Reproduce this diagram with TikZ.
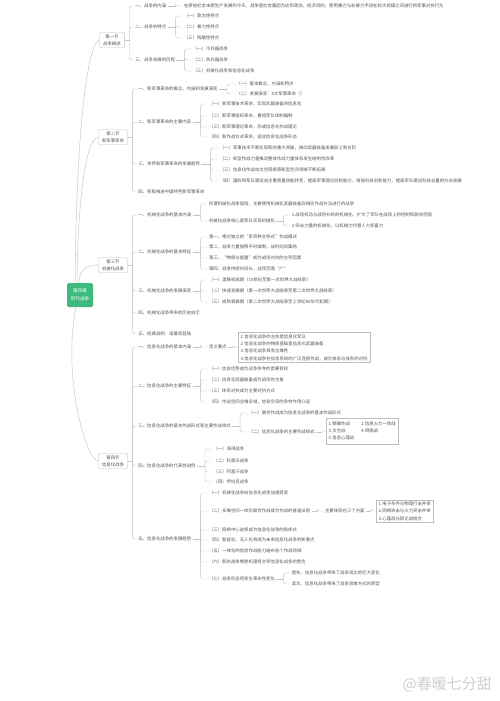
\documentclass[tikz,border=0pt]{standalone}
\usepackage{fontspec}
\setmainfont{Noto Sans CJK SC}
\usetikzlibrary{calc}
\definecolor{txt}{HTML}{555555}
\definecolor{lnc}{HTML}{C4C4C4}
\definecolor{boxc}{HTML}{BDBDBD}
\definecolor{rootg}{HTML}{3DBB7E}
\definecolor{wm}{HTML}{D0D0D0}
\tikzset{
 lbl/.style={anchor=west,inner xsep=1.2pt,inner ysep=0.5pt,text=txt,font=\fontsize{4.4}{5.2}\selectfont},
 secbox/.style={draw=boxc,line width=0.4pt,rounded corners=1.2pt,fill=white,align=center,text=txt,font=\fontsize{4.4}{7}\selectfont,inner xsep=3.5pt,inner ysep=2.2pt},
 rootbox/.style={fill=rootg,rounded corners=1.5pt,align=center,text=white,font=\fontsize{4.6}{8}\selectfont,minimum width=26pt,minimum height=24pt,inner sep=1pt},
 infobox/.style={draw=boxc,line width=0.4pt,anchor=west,align=left,text=txt,font=\fontsize{4.4}{7.4}\selectfont,inner xsep=2.5pt,inner ysep=1.8pt},
 conn/.style={draw=lnc,line width=0.45pt},
}
\newcommand\hubx[3]{\coordinate (#1b) at ([xshift=#2pt]#1.east);\coordinate (#1x) at ([xshift=#3pt]#1.east);}
\newcommand\fan[2]{\draw[conn] (#1.east) -- (#1b);\foreach \c in {#2}{\draw[conn,rounded corners=1.8pt] (#1b) |- (\c.west);}}
\begin{document}
\begin{tikzpicture}[x=1pt,y=-1pt]
\fill[white] (0,0) rectangle (500,701);
\useasboundingbox (0,0) rectangle (500,701);

% root and sections
\node[rootbox] (root) at (80,295) {第四章\\现代战争};
\node[secbox] (s1) at (112,40) {第一节\\战争概述};
\node[secbox] (s2) at (113,137) {第二节\\新军事革命};
\node[secbox] (s3) at (113,265) {第三节\\机械化战争};
\node[secbox] (s4) at (113,461) {第四节\\信息化战争};
\draw[conn] ([xshift=-5pt]root.north) .. controls +(2,-190) and +(-8,0) .. (s1.west);
\draw[conn] ([xshift=-3pt]root.north) .. controls +(1,-100) and +(-10,0) .. (s2.west);
\draw[conn] ([xshift=-1pt]root.north) .. controls +(0,-14) and +(-10,0) .. (s3.west);
\draw[conn] ([xshift=-4pt]root.south) .. controls +(-14,70) and +(-12,0) .. (s4.west);

% ===== Section 1 =====
\node[lbl] (a1) at (134,6) {一、战争的内涵};
\node[lbl] (a2) at (134,27) {二、战争的特点};
\node[lbl] (a3) at (134,60) {三、战争发展的历程};
\coordinate (s1b) at ([xshift=5pt]s1.east);
\fan{s1}{a1,a2,a3}
\hubx{a1}{8}{15}
\node[lbl] (a11) at (a1x |- 0,6) {在原始社会末期生产发展到今天，战争是社会集团为达到政治、经济目的，使用暴力与非暴力手段在较大规模之间进行的军事对抗行为};
\fan{a1}{a11}
\hubx{a2}{8}{15}
\node[lbl] (a21) at (a2x |- 0,16) {（一）政治性特点};
\node[lbl] (a22) at (a2x |- 0,27) {（二）暴力性特点};
\node[lbl] (a23) at (a2x |- 0,38) {（三）残酷性特点};
\fan{a2}{a21,a22,a23}
\hubx{a3}{8}{15}
\node[lbl] (a31) at (a3x |- 0,49) {（一）冷兵器战争};
\node[lbl] (a32) at (a3x |- 0,60) {（二）热兵器战争};
\node[lbl] (a33) at (a3x |- 0,71) {（三）机械化战争和信息化战争};
\fan{a3}{a31,a32,a33}

% ===== Section 2 =====
\node[lbl] (b1) at (137,89) {一、新军事革命的概念、内涵和发展演变};
\node[lbl] (b2) at (137,122) {二、新军事革命的主要内容};
\node[lbl] (b3) at (137,164) {三、世界新军事革命的发展趋势};
\node[lbl] (b4) at (137,192) {四、积极推进中国特色新军事革命};
\coordinate (s2b) at ([xshift=5pt]s2.east);
\fan{s2}{b1,b2,b3,b4}
\hubx{b1}{8}{16}
\node[lbl] (b11) at (b1x |- 0,84) {（一）基本概念、内涵和特点};
\node[lbl] (b12) at (b1x |- 0,94) {（二）发展演变：8大军事革命 \ ①};
\fan{b1}{b11,b12}
\hubx{b2}{8}{15}
\node[lbl] (b21) at (b2x |- 0,104) {（一）新军事技术革命，实现武器装备的信息化};
\node[lbl] (b22) at (b2x |- 0,116) {（二）新军事组织革命，重组军队体制编制};
\node[lbl] (b23) at (b2x |- 0,127) {（三）新军事理论革命，形成信息化作战理论};
\node[lbl] (b24) at (b2x |- 0,137) {（四）新作战方式革命，适应信息化战争形态};
\fan{b2}{b21,b22,b23,b24}
\hubx{b3}{9}{17}
\node[lbl] (b31) at (b3x |- 0,148) {（一）军事技术不断实现新的重大突破，推动武器装备发展跃上新台阶};
\node[lbl] (b32) at (b3x |- 0,159) {（二）新型作战力量推动整体作战力量体系发生结构性改革};
\node[lbl] (b33) at (b3x |- 0,170) {（三）信息化作战向太空网络等新型空间领域不断拓展};
\node[lbl] (b34) at (b3x |- 0,181) {（四）国防和军队建设向注重质量效能转变，提高军事理论创新能力、增强科技创新能力，提高军队建设科技含量的方向发展};
\fan{b3}{b31,b32,b33,b34}

% ===== Section 3 =====
\node[lbl] (c1) at (137,215) {一、机械化战争的基本内涵};
\node[lbl] (c2) at (137,252) {二、机械化战争的基本特征};
\node[lbl] (c3) at (137,291) {三、机械化战争的发展演变};
\node[lbl] (c4) at (137,313) {四、机械化战争带来的历史启示};
\node[lbl] (c5) at (137,334) {五、经典战例：诺曼底登陆};
\coordinate (s3b) at ([xshift=5pt]s3.east);
\fan{s3}{c1,c2,c3,c4,c5}
\hubx{c1}{8}{15}
\node[lbl] (c11) at (c1x |- 0,204) {所谓机械化战争是指，主要使用机械化武器装备及相应作战方法进行的战争};
\node[lbl] (c12) at (c1x |- 0,221) {机械化战争核心是军队实现机械化};
\fan{c1}{c11,c12}
\hubx{c12}{7}{14}
\node[lbl] (c121) at (c12x |- 0,215) {1.战场机动与战场补给的机械化，扩大了军队在战场上的控制和影响范围};
\node[lbl] (c122) at (c12x |- 0,226) {2.突击力量的机械化，以机械力代替人力和畜力};
\fan{c12}{c121,c122}
\hubx{c2}{8}{15}
\node[lbl] (c21) at (c2x |- 0,237) {第一，相对独立的“军兵种主导式”作战模式};
\node[lbl] (c22) at (c2x |- 0,247) {第二，战争力量按照平时编制，战时动员集结};
\node[lbl] (c23) at (c2x |- 0,258) {第三，“物质与能量”成为战场对抗的主导因素};
\node[lbl] (c24) at (c2x |- 0,269) {第四，战争持续时间长，战场范围“广”};
\fan{c2}{c21,c22,c23,c24}
\hubx{c3}{8}{15}
\node[lbl] (c31) at (c3x |- 0,280) {（一）滥觞初成期（19世纪至第一次世界大战结束）};
\node[lbl] (c32) at (c3x |- 0,291) {（二）快速发展期（第一次世界大战结束至第二次世界大战结束）};
\node[lbl] (c33) at (c3x |- 0,302) {（三）成熟衰微期（第二次世界大战结束至上世纪80年代初期）};
\fan{c3}{c31,c32,c33}

% ===== Section 4 =====
\node[lbl] (d1) at (137,347) {一、信息化战争的基本内涵};
\node[lbl] (d2) at (137,386) {二、信息化战争的主要特征};
\node[lbl] (d3) at (137,426) {三、信息化战争的基本作战形式和主要作战样式};
\node[lbl] (d4) at (137,466) {四、信息化战争的代表性战例};
\node[lbl] (d5) at (137,539) {五、信息化战争的发展趋势};
\coordinate (s4b) at ([xshift=5pt]s4.east);
\fan{s4}{d1,d2,d3,d4,d5}
\hubx{d1}{8}{15}
\node[lbl] (d11) at (d1x |- 0,347) {定义要点};
\fan{d1}{d11}
\hubx{d11}{5}{10}
\node[infobox] (d111) at (d11x |- 0,347.5) {1.信息化战争的主体是信息化军队\\2.信息化战争的物质基础是信息化武器装备\\3.信息化战争具有全维性\\4.信息化战争在信息系统的广泛连接作战，成为体系与体系的对抗};
\fan{d11}{d111}
\hubx{d2}{8}{15}
\node[lbl] (d21) at (d2x |- 0,369) {（一）信息优势成为战争争夺的首要目标};
\node[lbl] (d22) at (d2x |- 0,380) {（二）信息化武器装备成为战场的主角};
\node[lbl] (d23) at (d2x |- 0,391) {（三）体系对抗成为主要对抗方式};
\node[lbl] (d24) at (d2x |- 0,402) {（四）作战空间全维多域，信息空间的争夺作用凸显};
\fan{d2}{d21,d22,d23,d24}
\hubx{d3}{8}{15}
\node[lbl] (d31) at (d3x |- 0,413) {（一）联合作战成为信息化战争的基本作战形式};
\node[lbl] (d32) at (d3x |- 0,432) {（二）信息化战争的主要作战样式};
\fan{d3}{d31,d32}
\hubx{d32}{5}{10}
\node[infobox] (d321) at (d32x |- 0,431) {\begin{tabular}{@{}l@{\hspace{7pt}}l@{}}1.精确作战 & 2.信息火力一体战\\3.太空战 & 4.网络战\\5.信息心理战 & \end{tabular}};
\fan{d32}{d321}
\hubx{d4}{8}{15}
\node[lbl] (d41) at (d4x |- 0,449) {（一）海湾战争};
\node[lbl] (d42) at (d4x |- 0,461) {（二）科索沃战争};
\node[lbl] (d43) at (d4x |- 0,472) {（三）阿富汗战争};
\node[lbl] (d44) at (d4x |- 0,482) {（四）伊拉克战争};
\fan{d4}{d41,d42,d43,d44}
\hubx{d5}{8}{15}
\node[lbl] (d51) at (d5x |- 0,493) {（一）机械化战争向信息化战争加速转变};
\node[lbl] (d52) at (d5x |- 0,511) {（二）多维空间一体化联合作战成为作战的普遍法则};
\node[lbl] (d53) at (d5x |- 0,530) {（三）网络中心战将成为信息化战争的新样式};
\node[lbl] (d54) at (d5x |- 0,540) {（四）智能化、无人化将成为未来信息化战争的新重点};
\node[lbl] (d55) at (d5x |- 0,551) {（五）一体化的信息作战能力遍布各个作战领域};
\node[lbl] (d56) at (d5x |- 0,562) {（六）新的战争制胜机理将主导信息化战争的胜负};
\node[lbl] (d57) at (d5x |- 0,579) {（七）战争形态将发生革命性变化};
\fan{d5}{d51,d52,d53,d54,d55,d56,d57}
\hubx{d52}{6}{12}
\node[lbl] (d521) at (d52x |- 0,511) {主要体现在三个方面};
\fan{d52}{d521}
\hubx{d521}{5}{10}
\node[infobox] (d522) at (d521x |- 0,511) {1.电子条件与物理打击并举\\2.网络攻击与火力突击并举\\3.心理战与舆论战结合};
\fan{d521}{d522}
\hubx{d57}{7}{14}
\node[lbl] (d571) at (d57x |- 0,573) {首先，信息化战争带来了战争观念的巨大变化};
\node[lbl] (d572) at (d57x |- 0,584) {其次，信息化战争带来了战争思维方式的转型};
\fan{d57}{d571,d572}

% watermark
\node[anchor=east,inner sep=0pt,text=wm,font=\fontsize{15}{16}\selectfont] (wmk) at (492,684) {@春暖七分甜};
\end{tikzpicture}
\end{document}
